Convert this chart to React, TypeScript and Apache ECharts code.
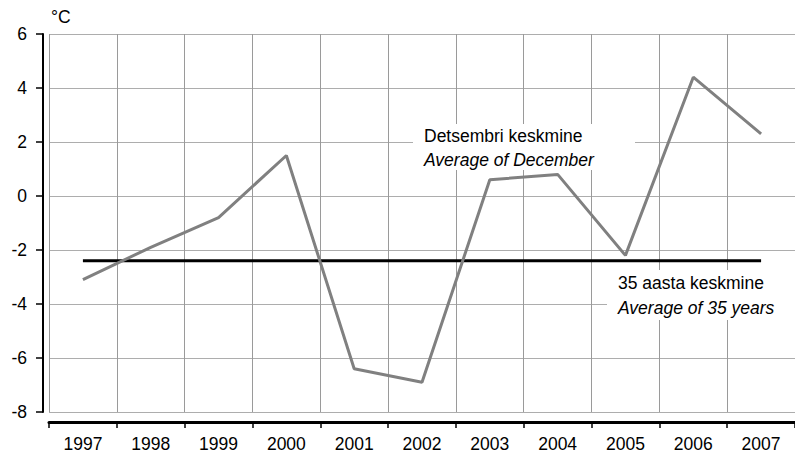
import React, { useEffect, useRef } from "react";
import * as echarts from "echarts";

const years = ["1997", "1998", "1999", "2000", "2001", "2002", "2003", "2004", "2005", "2006", "2007"];
const decemberAvg = [-3.1, -1.9, -0.8, 1.5, -6.4, -6.9, 0.6, 0.8, -2.2, 4.4, 2.3];
const longTermAvg = [-2.4, -2.4, -2.4, -2.4, -2.4, -2.4, -2.4, -2.4, -2.4, -2.4, -2.4];
const yMin = -8;
const yMax = 6;
const yStep = 2;

const FONT = "'Liberation Sans', Arial, sans-serif";
const FS = 17.5;

export default function App() {
  const ref = useRef<HTMLDivElement>(null);
  useEffect(() => {
    if (!ref.current) return;
    const chart = echarts.init(ref.current, null, { renderer: "svg" });
    chart.setOption({
      animation: false,
      backgroundColor: "#ffffff",
      grid: { left: 49, top: 34, height: 378, right: -11, containLabel: false },
      xAxis: {
        type: "category",
        data: years,
        boundaryGap: true,
        offset: 10,
        axisLine: { show: true, onZero: false, lineStyle: { color: "#000", width: 3 } },
        axisTick: { show: true, length: 6, alignWithLabel: false, lineStyle: { color: "#000", width: 1.5 } },
        axisLabel: { color: "#000", fontSize: FS, fontFamily: FONT, margin: 13 },
        splitLine: { show: true, lineStyle: { color: "#9a9a9a", width: 1 } },
      },
      yAxis: {
        type: "value",
        min: yMin,
        max: yMax,
        interval: yStep,
        offset: 6,
        axisLine: { show: true, onZero: false, lineStyle: { color: "#000", width: 2 } },
        axisTick: { show: true, length: 7, lineStyle: { color: "#000", width: 1.5 } },
        axisLabel: { color: "#000", fontSize: FS, fontFamily: FONT, margin: 16 },
        splitLine: { show: true, lineStyle: { color: "#adadad", width: 1 } },
      },
      series: [
        {
          type: "line",
          data: longTermAvg,
          symbol: "none",
          lineStyle: { color: "#000", width: 3 },
          z: 2,
        },
        {
          type: "line",
          data: decemberAvg,
          symbol: "none",
          lineStyle: { color: "#808080", width: 3 },
          z: 3,
        },
      ],
      graphic: [
        {
          type: "text",
          left: 51,
          top: 8,
          style: { text: "°C", fill: "#000", font: `${FS}px ${FONT}` },
        },
        {
          type: "rect",
          z: 1,
          shape: { x: 413, y: 124, width: 222, height: 46 },
          style: { fill: "#fff" },
        },
        {
          type: "text",
          z: 4,
          x: 424,
          y: 136,
          style: { text: "Detsembri keskmine", fill: "#000", font: `${FS}px ${FONT}`, textVerticalAlign: "middle" },
        },
        {
          type: "text",
          z: 4,
          x: 424,
          y: 160,
          style: { text: "Average of December", fill: "#000", font: `italic ${FS}px ${FONT}`, textVerticalAlign: "middle" },
        },
        {
          type: "rect",
          z: 1,
          shape: { x: 607, y: 270, width: 190, height: 50 },
          style: { fill: "#fff" },
        },
        {
          type: "text",
          z: 4,
          x: 618,
          y: 283,
          style: { text: "35 aasta keskmine", fill: "#000", font: `${FS}px ${FONT}`, textVerticalAlign: "middle" },
        },
        {
          type: "text",
          z: 4,
          x: 618,
          y: 308,
          style: { text: "Average of 35 years", fill: "#000", font: `italic ${FS}px ${FONT}`, textVerticalAlign: "middle" },
        },
      ],
    });
    return () => chart.dispose();
  }, []);
  return <div ref={ref} style={{ position: "absolute", left: 0, top: 0, width: 795, height: 458 }} />;
}
